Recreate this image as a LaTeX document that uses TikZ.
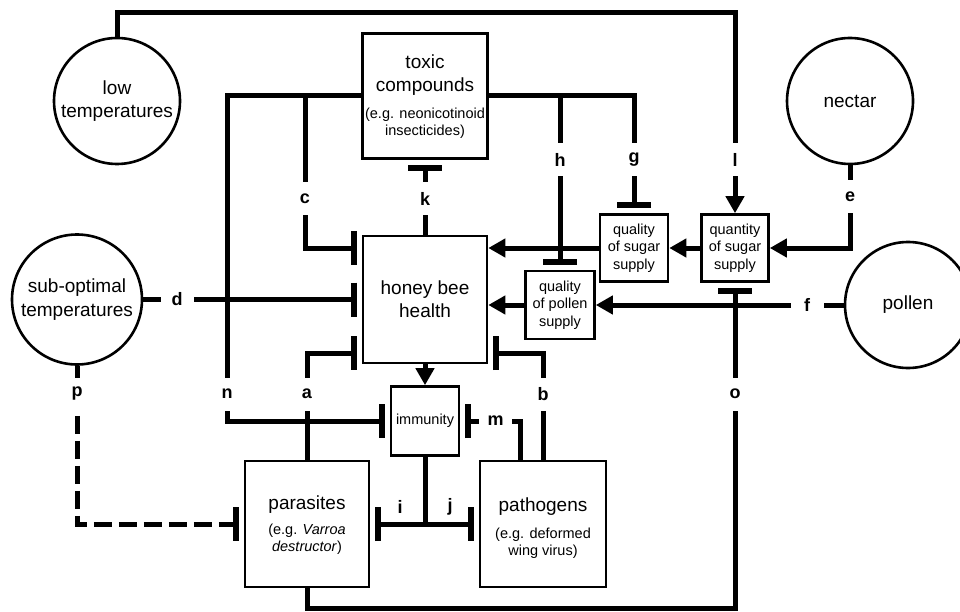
\documentclass[tikz,border=0pt]{standalone}
\usepackage{fontspec}
\setmainfont{Liberation Sans}
\usetikzlibrary{arrows.meta,calc}
\newcommand{\bigtxt}{\fontsize{19}{23}\selectfont}
\newcommand{\smtxt}{\fontsize{14.5}{17.5}\selectfont}
\begin{document}
\begin{tikzpicture}[x=1pt,y=-1pt,
  box/.style={draw,line width=2.6pt,inner sep=0pt,align=center},
  circ/.style={draw,circle,line width=2.6pt,inner sep=0pt,align=center,minimum size=126pt,font=\bigtxt},
  bigt/.style={inner sep=0pt,align=center,font=\bigtxt},
  smt/.style={inner sep=0pt,align=center,font=\smtxt},
  conn/.style={line width=5pt},
  inh/.style={conn,-{Bar[width=34pt,line width=6pt]},shorten >=5pt},
  inhboth/.style={conn,{Bar[width=34pt,line width=6pt]}-{Bar[width=34pt,line width=6pt]},shorten >=5pt,shorten <=5pt},
  act/.style={conn,-{Triangle[length=17pt,width=18pt]}},
  lab/.style={font=\bfseries\fontsize{18}{18}\selectfont,fill=white,minimum size=33pt,inner sep=0pt},
  labnf/.style={font=\bfseries\fontsize{18}{18}\selectfont,inner sep=0pt},
  dash19/.style={dash pattern=on 18pt off 7pt}
]
\useasboundingbox (0,0) rectangle (960,612);
\clip (0,0) rectangle (960,612);

% circles
\node[circ] (low) at (117,101) {low\\temperatures};
\node[circ] (nectar) at (850,101) {nectar};
\node[circ,minimum size=130pt,font=\fontsize{19}{24}\selectfont] (subopt) at (77,299.5) {sub-optimal\\temperatures};
\node[circ] (pollen) at (908,305) {pollen};

% boxes
\node[box,minimum width=125pt,minimum height=125pt] (toxic) at (425,96) {};
\node[bigt] (toxicT) at (425,75) {toxic\\compounds};
\node[smt] (toxicS) at (425,123) {(e.g. neonicotinoid\\insecticides)};
\node[box,minimum width=124pt,minimum height=127pt,font=\bigtxt] (honey) at (425,299.5) {honey bee\\health};
\node[box,minimum width=68pt,minimum height=69pt,font=\smtxt] (immunity) at (425,421) {immunity};
\node[box,minimum width=124pt,minimum height=126pt] (parasites) at (307,524) {};
\node[bigt] (parasitesT) at (307,505) {parasites};
\node[smt] (parasitesS) at (307,539) {(e.g. \textit{Varroa}\\\textit{destructor})};
\node[box,minimum width=126pt,minimum height=126pt] (pathogens) at (543,524) {};
\node[bigt] (pathogensT) at (543,507) {pathogens};
\node[smt] (pathogensS) at (543,543) {(e.g. deformed\\wing virus)};
\node[box,minimum width=68pt,minimum height=67pt,font=\smtxt] (qsugar) at (634,248) {quality\\of sugar\\supply};
\node[box,minimum width=69pt,minimum height=68pt,font=\smtxt] (qpollen) at (560,305) {quality\\of pollen\\supply};
\node[box,minimum width=67pt,minimum height=67pt,font=\smtxt] (quantity) at (735,248) {quantity\\of sugar\\supply};

% helper coordinates
\coordinate (ytop) at (0,13);
\coordinate (ybot) at (0,608);
\coordinate (yc) at (0,248);
\coordinate (ya) at (0,353);
\coordinate (nc) at (227,421);
\coordinate (cb) at (305,96);
\coordinate (hb) at (560,96);
\coordinate (mx) at (520,0);

% connectors
\draw[act] (low.north) |- (quantity.north |- ytop) -- (quantity.north);
\draw[inh] (toxic.west) -| (nc) -- (immunity.west);
\draw[inh] (cb) |- (honey.west |- yc);
\draw[inh] (toxic.east) -| (qsugar.north);
\draw[inh] (hb) -- (qpollen.north);
\draw[inh] (honey.north) -- (toxic.south);
\draw[inh] (subopt.east) -- (honey.west);
\draw[inh] (parasites.north) |- (honey.west |- ya);
\draw[inh] (pathogens.north) |- (honey.east |- ya);
\draw[inh] (pathogens.north -| mx) |- (immunity.east);
\draw[act] (honey.south) -- (immunity.north);
\draw[conn] (immunity.south) -- (immunity.south |- parasites.east);
\draw[inhboth] (parasites.east) -- (pathogens.west);
\draw[inh,dash19] (subopt.south) |- (parasites.west);
\draw[inh] (parasites.south) |- (quantity.south |- ybot) -- (quantity.south);
\draw[act] (nectar.south) |- (quantity.east);
\draw[act] (pollen.west) -- (qpollen.east);
\draw[act] (qpollen.west) -- (honey.east |- qpollen.west);
\draw[act] (qsugar.west) -- (honey.east |- qsugar.west);
\draw[act] (quantity.west) -- (qsugar.east);

% labels
\node[lab] (lc) at (305,199) {c};
\node[lab] (lk) at (425,199) {k};
\node[lab] (lh) at (560,160) {h};
\node[lab] (lg) at (634,160) {g};
\node[lab] (ll) at (735,160) {l};
\node[lab] (le) at (850,197) {e};
\node[lab] (ld) at (177,299.5) {d};
\node[lab] (lf) at (807,305) {f};
\node[lab] (ln) at (227,394) {n};
\node[lab] (la) at (307,394) {a};
\node[lab] (lb) at (543,394) {b};
\node[lab] (lo) at (735,394) {o};
\node[lab] (lp) at (77,394) {p};
\node[lab] (lm) at (495.5,421) {m};
\node[labnf] (li) at (400,507) {i};
\node[labnf] (lj) at (450,507) {j};
\end{tikzpicture}
\end{document}
